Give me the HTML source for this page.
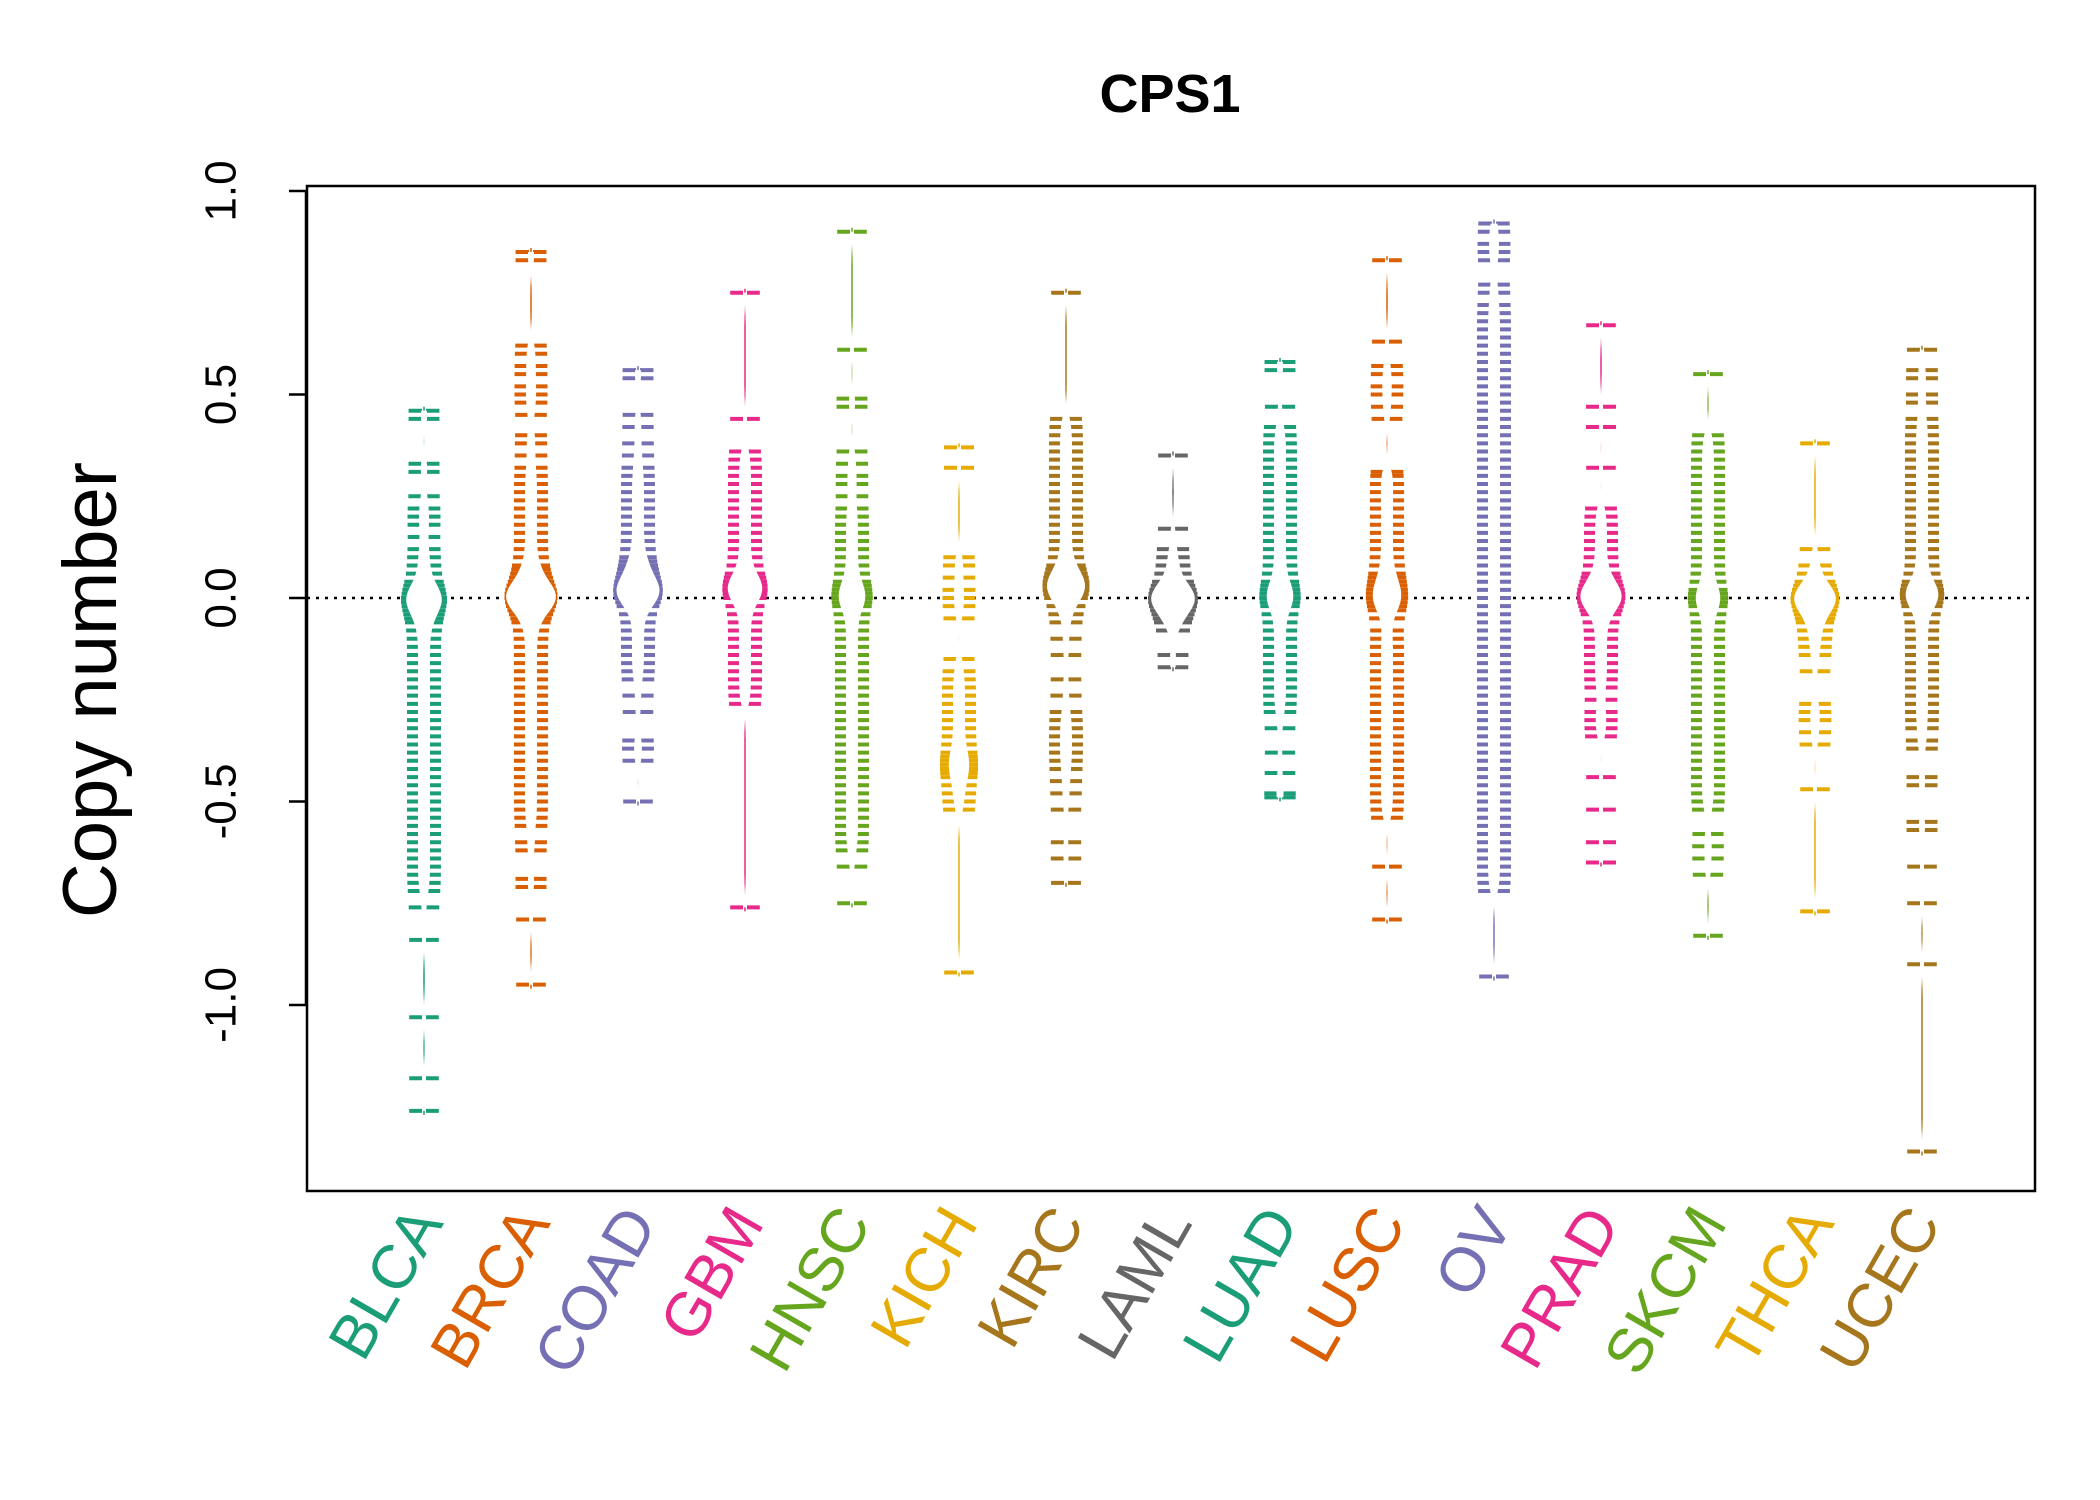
<!DOCTYPE html>
<html><head><meta charset="utf-8"><style>body{margin:0;background:#fff}svg{display:block}</style></head>
<body>
<svg id="chart" width="2100" height="1500" xmlns="http://www.w3.org/2000/svg" font-family="Liberation Sans, sans-serif">
<text x="1170" y="112" font-size="54" font-weight="bold" text-anchor="middle">CPS1</text>
<text transform="translate(116,690) rotate(-90)" font-size="76" text-anchor="middle">Copy number</text>
<g id="marks"></g>
<rect x="307" y="186" width="1728" height="1005" fill="none" stroke="#000" stroke-width="2.5"/>
<g id="axes"></g>
</svg>
<script>
const categories=["BLCA","BRCA","COAD","GBM","HNSC","KICH","KIRC","LAML","LUAD","LUSC","OV","PRAD","SKCM","THCA","UCEC"];
const colors=["#1B9E77","#D95F02","#7570B3","#E7298A","#66A61E","#E6AB02","#A6761D","#666666","#1B9E77","#D95F02","#7570B3","#E7298A","#66A61E","#E6AB02","#A6761D"];
const yTicks=[1.0,0.5,0.0,-0.5,-1.0];
const yTickLabels=["1.0","0.5","0.0","-0.5","-1.0"];
const vBLCA=[0.46,0.44,0.33,0.31,0.25,0.22,0.2,0.18,0.15,0.12,0.1,0.08,0.06,0.04,0.03,0.02,0.01,0,0,0,0,-0.01,-0.01,-0.02,-0.03,-0.04,-0.05,-0.06,-0.08,-0.1,-0.12,-0.14,-0.16,-0.18,-0.2,-0.22,-0.24,-0.26,-0.28,-0.3,-0.32,-0.34,-0.36,-0.38,-0.4,-0.42,-0.44,-0.46,-0.48,-0.5,-0.52,-0.54,-0.56,-0.58,-0.6,-0.62,-0.64,-0.66,-0.68,-0.7,-0.72,-0.76,-0.84,-1.03,-1.18,-1.26];
const vBRCA=[0.85,0.83,0.62,0.6,0.57,0.55,0.52,0.5,0.48,0.45,0.4,0.38,0.35,0.32,0.3,0.28,0.26,0.24,0.22,0.2,0.18,0.16,0.14,0.12,0.1,0.08,0.07,0.06,0.05,0.04,0.03,0.03,0.02,0.02,0.01,0.01,0,0,0,0,0,-0.01,-0.01,-0.02,-0.02,-0.03,-0.04,-0.05,-0.06,-0.08,-0.1,-0.12,-0.14,-0.16,-0.18,-0.2,-0.22,-0.24,-0.26,-0.28,-0.3,-0.32,-0.34,-0.36,-0.38,-0.4,-0.42,-0.44,-0.46,-0.48,-0.5,-0.52,-0.54,-0.56,-0.6,-0.62,-0.69,-0.71,-0.79,-0.95];
const vCOAD=[0.56,0.54,0.45,0.42,0.38,0.35,0.32,0.3,0.28,0.26,0.24,0.22,0.2,0.18,0.16,0.14,0.12,0.1,0.09,0.08,0.07,0.06,0.05,0.04,0.04,0.03,0.03,0.02,0.02,0.01,0.01,0.01,0,0,0,-0.01,-0.02,-0.04,-0.06,-0.08,-0.1,-0.12,-0.14,-0.16,-0.18,-0.2,-0.24,-0.28,-0.35,-0.37,-0.4,-0.5];
const vGBM=[0.75,0.44,0.36,0.34,0.32,0.3,0.28,0.26,0.24,0.22,0.2,0.18,0.16,0.14,0.12,0.1,0.08,0.06,0.05,0.04,0.04,0.03,0.03,0.02,0.02,0.01,0.01,0,0,-0.02,-0.04,-0.06,-0.08,-0.1,-0.12,-0.14,-0.16,-0.18,-0.2,-0.22,-0.24,-0.26,-0.76];
const vHNSC=[0.9,0.61,0.49,0.47,0.36,0.33,0.3,0.28,0.25,0.22,0.2,0.18,0.16,0.14,0.12,0.1,0.08,0.06,0.04,0.03,0.02,0.01,0,0,0,-0.01,-0.02,-0.04,-0.06,-0.08,-0.1,-0.12,-0.14,-0.16,-0.18,-0.2,-0.22,-0.24,-0.26,-0.28,-0.3,-0.32,-0.34,-0.36,-0.38,-0.4,-0.42,-0.44,-0.46,-0.48,-0.5,-0.52,-0.54,-0.56,-0.58,-0.6,-0.62,-0.66,-0.75];
const vKICH=[0.37,0.32,0.1,0.08,0.05,0.02,0,-0.02,-0.05,-0.15,-0.18,-0.2,-0.22,-0.24,-0.26,-0.28,-0.3,-0.32,-0.34,-0.36,-0.38,-0.39,-0.4,-0.41,-0.42,-0.43,-0.44,-0.46,-0.48,-0.5,-0.52,-0.92];
const vKIRC=[0.75,0.44,0.42,0.4,0.38,0.36,0.34,0.32,0.3,0.28,0.26,0.24,0.22,0.2,0.18,0.16,0.14,0.12,0.1,0.08,0.07,0.06,0.05,0.05,0.04,0.04,0.03,0.03,0.02,0.02,0.01,0.01,0,0,-0.02,-0.04,-0.06,-0.1,-0.14,-0.2,-0.24,-0.28,-0.3,-0.32,-0.34,-0.36,-0.38,-0.4,-0.42,-0.45,-0.48,-0.52,-0.6,-0.64,-0.7];
const vLAML=[0.35,0.17,0.12,0.1,0.08,0.06,0.04,0.03,0.02,0.02,0.01,0.01,0,0,0,0,-0.01,-0.01,-0.02,-0.02,-0.03,-0.04,-0.05,-0.06,-0.08,-0.14,-0.17];
const vLUAD=[0.58,0.56,0.47,0.42,0.4,0.38,0.36,0.34,0.32,0.3,0.28,0.26,0.24,0.22,0.2,0.18,0.16,0.14,0.12,0.1,0.08,0.06,0.04,0.03,0.02,0.01,0,0,0,-0.01,-0.02,-0.04,-0.06,-0.08,-0.1,-0.12,-0.14,-0.16,-0.18,-0.2,-0.22,-0.24,-0.26,-0.28,-0.32,-0.38,-0.43,-0.48,-0.49];
const vLUSC=[0.83,0.63,0.57,0.55,0.52,0.5,0.47,0.44,0.31,0.3,0.28,0.26,0.24,0.22,0.2,0.18,0.16,0.14,0.12,0.1,0.08,0.06,0.05,0.04,0.03,0.02,0.01,0,0,0,-0.01,-0.02,-0.03,-0.05,-0.08,-0.1,-0.12,-0.14,-0.16,-0.18,-0.2,-0.22,-0.24,-0.26,-0.28,-0.3,-0.32,-0.34,-0.36,-0.38,-0.4,-0.42,-0.44,-0.46,-0.48,-0.5,-0.52,-0.54,-0.66,-0.79];
const vOV=[0.92,0.9,0.87,0.85,0.83,0.77,0.75,0.72,0.7,0.68,0.66,0.64,0.62,0.6,0.58,0.56,0.54,0.52,0.5,0.48,0.46,0.44,0.42,0.4,0.38,0.36,0.34,0.32,0.3,0.28,0.26,0.24,0.22,0.2,0.18,0.16,0.14,0.12,0.1,0.08,0.06,0.04,0.02,0,-0.02,-0.04,-0.06,-0.08,-0.1,-0.12,-0.14,-0.16,-0.18,-0.2,-0.22,-0.24,-0.26,-0.28,-0.3,-0.32,-0.34,-0.36,-0.38,-0.4,-0.42,-0.44,-0.46,-0.48,-0.5,-0.52,-0.54,-0.56,-0.58,-0.6,-0.62,-0.64,-0.66,-0.68,-0.7,-0.72,-0.93];
const vPRAD=[0.67,0.47,0.42,0.32,0.22,0.2,0.18,0.16,0.14,0.12,0.1,0.08,0.06,0.05,0.04,0.03,0.02,0.02,0.01,0.01,0,0,0,0,-0.01,-0.01,-0.02,-0.03,-0.04,-0.06,-0.08,-0.1,-0.12,-0.14,-0.16,-0.18,-0.2,-0.22,-0.25,-0.28,-0.3,-0.32,-0.34,-0.44,-0.52,-0.6,-0.65];
const vSKCM=[0.55,0.4,0.38,0.36,0.34,0.32,0.3,0.28,0.26,0.24,0.22,0.2,0.18,0.16,0.14,0.12,0.1,0.08,0.06,0.04,0.02,0.01,0,0,0,-0.01,-0.02,-0.04,-0.06,-0.08,-0.1,-0.12,-0.14,-0.16,-0.18,-0.2,-0.22,-0.24,-0.26,-0.28,-0.3,-0.32,-0.34,-0.36,-0.38,-0.4,-0.42,-0.44,-0.46,-0.48,-0.5,-0.52,-0.58,-0.61,-0.64,-0.68,-0.83];
const vTHCA=[0.38,0.12,0.08,0.06,0.04,0.03,0.02,0.01,0.01,0,0,0,0,0,-0.01,-0.01,-0.02,-0.03,-0.04,-0.05,-0.06,-0.08,-0.1,-0.12,-0.14,-0.18,-0.26,-0.28,-0.3,-0.33,-0.36,-0.47,-0.77];
const vUCEC=[0.61,0.56,0.54,0.5,0.48,0.44,0.42,0.4,0.38,0.36,0.34,0.32,0.3,0.28,0.26,0.24,0.22,0.2,0.18,0.16,0.14,0.12,0.1,0.08,0.06,0.04,0.03,0.02,0.02,0.01,0.01,0,0,0,-0.01,-0.02,-0.04,-0.06,-0.08,-0.1,-0.12,-0.14,-0.16,-0.18,-0.2,-0.22,-0.24,-0.26,-0.28,-0.3,-0.32,-0.35,-0.37,-0.44,-0.46,-0.55,-0.57,-0.66,-0.75,-0.9,-1.36];
const values=[vBLCA,vBRCA,vCOAD,vGBM,vHNSC,vKICH,vKIRC,vLAML,vLUAD,vLUSC,vOV,vPRAD,vSKCM,vTHCA,vUCEC];

const NS="http://www.w3.org/2000/svg";
const PL=307,PR=2035,PT=186,PB=1191;
const X0=424,XSTEP=107;
function xScale(i){return X0+i*XSTEP;}
function yScale(v){return 598-v*407;}
function mk(tag,attrs,parent){const e=document.createElementNS(NS,tag);for(const k in attrs)e.setAttribute(k,attrs[k]);parent.appendChild(e);return e;}
const marks=document.getElementById('marks'),axes=document.getElementById('axes');

const zl=mk('line',{x1:PL,x2:PR,y1:yScale(0),y2:yScale(0),stroke:'#000','stroke-width':2.5,'stroke-dasharray':'3,6'},marks);



categories.forEach((cat,i)=>{
  const cx=xScale(i),col=colors[i],vals=values[i];
  const g=mk('g',{},marks);
  
  
  const mn=Math.min(...vals),mx=Math.max(...vals);
  mk('line',{x1:cx,x2:cx,y1:yScale(mx)-4,y2:yScale(mn)+4,stroke:col,'stroke-width':1.5},g);
  const bw=0.03,pts=[];let maxd=0;
  function dens(v){let d=0;vals.forEach(u=>{const z=(v-u)/bw;d+=Math.exp(-0.5*z*z);});return d;}
  for(let v=mn;v<=mx+0.0001;v+=0.005){const d=dens(v);pts.push([v,d]);if(d>maxd)maxd=d;}
  const W=Math.min(46,maxd*1.6);
  vals.forEach(v=>{
    const y=yScale(v);
    const hw=14+0.5*dens(v)/maxd*W;
    mk('path',{d:`M${cx-hw},${y}H${cx-2}M${cx+2},${y}H${cx+hw}`,stroke:col,'stroke-width':4},g);
  });
  let dpath='';
  pts.forEach((p,k)=>{dpath+=(k?'L':'M')+(cx+p[1]/maxd*W).toFixed(1)+','+yScale(p[0]).toFixed(1);});
  for(let k=pts.length-1;k>=0;k--){const p=pts[k];dpath+='L'+(cx-p[1]/maxd*W).toFixed(1)+','+yScale(p[0]).toFixed(1);}
  dpath+='Z';
  mk('path',{d:dpath,fill:'#fff',stroke:'none'},g);
  const t=mk('text',{transform:`translate(${cx+6},${PB+24}) rotate(-60)`,'text-anchor':'end','dominant-baseline':'middle','font-size':62,fill:col},axes);
  t.textContent=cat;
  
  
});
yTicks.forEach((v,k)=>{
  const y=yScale(v);
  const tl=mk('line',{x1:PL-18,x2:PL,y1:y,y2:y,stroke:'#000','stroke-width':2.5},axes);
  
  
  const t=mk('text',{transform:`translate(${PL-86},${y}) rotate(-90)`,'text-anchor':'middle','dominant-baseline':'central','font-size':44},axes);
  t.textContent=yTickLabels[k];
  
  
});
const ax=mk('line',{x1:PL-1,x2:PL-1,y1:yScale(1),y2:yScale(-1),stroke:'#000','stroke-width':2.5},axes);


</script>
</body></html>
